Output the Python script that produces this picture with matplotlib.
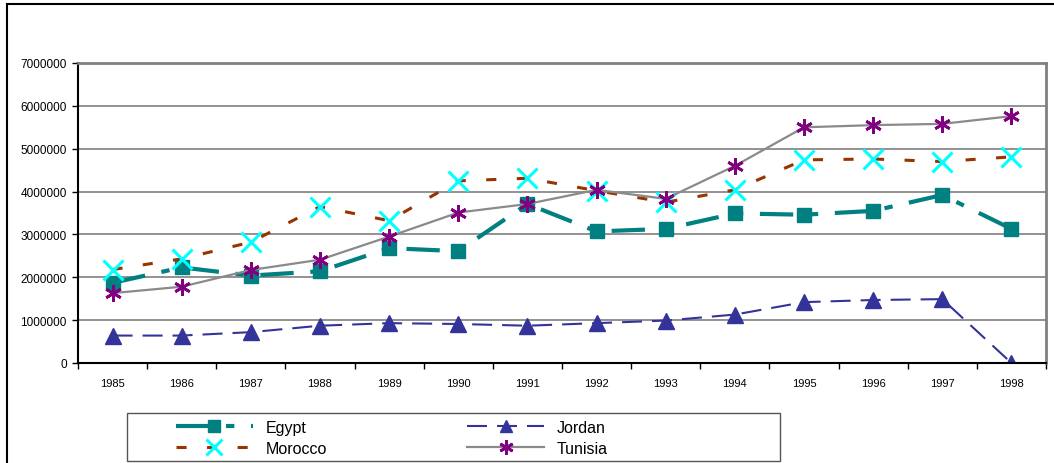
import numpy as np
import matplotlib.pyplot as plt
from matplotlib.lines import Line2D
from matplotlib.patches import Rectangle

years = ['1985', '1986', '1987', '1988', '1989', '1990', '1991',
         '1992', '1993', '1994', '1995', '1996', '1997', '1998']
egypt = [1870000, 2230000, 2040000, 2140000, 2680000, 2610000, 3710000,
         3070000, 3130000, 3490000, 3460000, 3550000, 3920000, 3130000]
jordan = [640000, 640000, 720000, 870000, 930000, 910000, 870000,
          930000, 990000, 1130000, 1420000, 1470000, 1490000, 0]
morocco = [2180000, 2430000, 2820000, 3650000, 3320000, 4250000, 4310000,
           4020000, 3750000, 4040000, 4740000, 4760000, 4700000, 4810000]
tunisia = [1630000, 1780000, 2170000, 2410000, 2950000, 3510000, 3710000,
           4040000, 3830000, 4600000, 5500000, 5550000, 5580000, 5760000]
y_ticks = [0, 1000000, 2000000, 3000000, 4000000, 5000000, 6000000, 7000000]


def main():
    plt.rcParams['font.family'] = ['Liberation Sans', 'DejaVu Sans']
    fig = plt.figure(figsize=(10.54, 4.64), dpi=100)
    ax = fig.add_axes([78 / 1054, 1 - 364 / 464, 968 / 1054, 300 / 464])
    x = np.arange(len(years))

    l_eg, = ax.plot(x, egypt, color='#008080', lw=3,
                    linestyle=(0, (8, 4, 2, 4)),
                    marker='s', markersize=10, label='Egypt')
    l_jo, = ax.plot(x, jordan, color='#333399', lw=1.5,
                    linestyle=(0, (9.6, 4.8)),
                    marker='^', markersize=11, label='Jordan')
    l_mo, = ax.plot(x, morocco, color='#993300', lw=2.2,
                    linestyle=(0, (3.3, 6.7)),
                    marker='x', markersize=14, markeredgewidth=2.2,
                    markeredgecolor='#00FFFF', label='Morocco')
    l_tu, = ax.plot(x, tunisia, color='#8a8a8a', lw=1.6,
                    marker=(6, 2, 0), markersize=12, markeredgewidth=2,
                    markeredgecolor='#800080', label='Tunisia')

    ax.set_xlim(-0.5, len(years) - 0.5)
    ax.set_ylim(0, 7000000)
    ax.set_xticks(x)
    ax.set_xticklabels(years)
    ax.set_xticks(np.arange(-0.5, len(years)), minor=True)
    ax.set_yticks(y_ticks)
    ax.set_yticklabels([str(v) for v in y_ticks])
    ax.tick_params(axis='x', which='major', length=0, pad=11, labelsize=8)
    ax.tick_params(axis='x', which='minor', length=4, width=1, direction='out')
    ax.tick_params(axis='y', length=4, width=1, pad=4, labelsize=8.5)
    ax.grid(axis='y', color='#7f7f7f', lw=1.2)
    ax.set_axisbelow(True)
    for side in ['left', 'bottom']:
        ax.spines[side].set_color('black')
        ax.spines[side].set_linewidth(1.5)
    for side in ['top', 'right']:
        ax.spines[side].set_color('#808080')
        ax.spines[side].set_linewidth(2)

    # outer chart border (top and left only visible)
    fig.add_artist(Line2D([7 / 1054, 1], [1 - 5 / 464, 1 - 5 / 464],
                          color='black', lw=1.5, transform=fig.transFigure))
    fig.add_artist(Line2D([7 / 1054, 7 / 1054], [0, 1 - 5 / 464],
                          color='black', lw=1.5, transform=fig.transFigure))

    # legend box
    fig.add_artist(Rectangle((127 / 1054, 2 / 464), 653 / 1054, 48 / 464,
                             transform=fig.transFigure, fill=False,
                             edgecolor='#555555', lw=1))
    fig.legend([l_eg, l_mo, l_jo, l_tu], ['Egypt', 'Morocco', 'Jordan', 'Tunisia'],
               loc='upper left', bbox_to_anchor=(176 / 1054, 1 - 421 / 464),
               ncol=2, frameon=False, fontsize=11.5, handlelength=4.8,
               handletextpad=0.8, columnspacing=8.8, labelspacing=0.35,
               borderpad=0, borderaxespad=0, markerscale=0.85)

    plt.savefig('out.png', dpi=100)
    return 0


if __name__ == "__main__":
    main()
